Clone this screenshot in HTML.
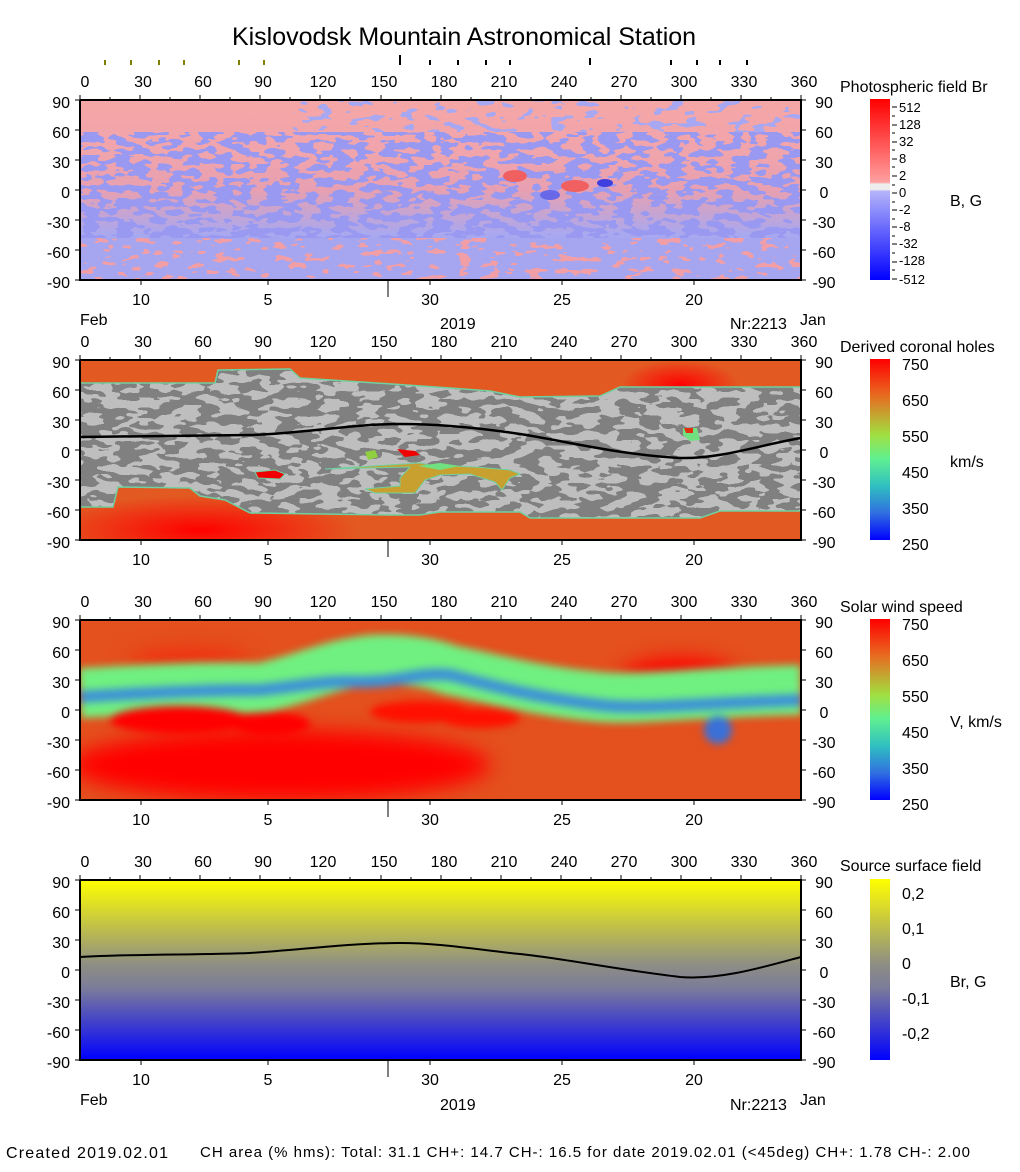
<!DOCTYPE html>
<html><head><meta charset="utf-8"><style>
body{margin:0;background:#fff;}
svg{display:block;font-family:"Liberation Sans",Arial,sans-serif;}
.t{font-size:16px;fill:#000}
.s{font-size:13px;fill:#000}
filter{color-interpolation-filters:sRGB}
</style></head><body>
<svg width="1020" height="1172" viewBox="0 0 1020 1172" xmlns="http://www.w3.org/2000/svg">
<defs>
<filter id="n1" x="0" y="0" width="1" height="1" color-interpolation-filters="sRGB"><feTurbulence type="fractalNoise" baseFrequency="0.06 0.14" numOctaves="2" seed="3"/><feColorMatrix type="matrix" values="0 0 0 0 0.6  0 0 0 0 0.6  0 0 0 0 0.95  1 0 0 0 0"/><feComponentTransfer><feFuncA type="discrete" tableValues="0 1"/></feComponentTransfer></filter>
<filter id="n2" x="0" y="0" width="1" height="1" color-interpolation-filters="sRGB"><feTurbulence type="fractalNoise" baseFrequency="0.05 0.12" numOctaves="2" seed="7"/><feColorMatrix type="matrix" values="0 0 0 0 0.5  0 0 0 0 0.5  0 0 0 0 0.5  1 0 0 0 0"/><feComponentTransfer><feFuncA type="discrete" tableValues="0 1"/></feComponentTransfer></filter>
<filter id="n3" x="0" y="0" width="1" height="1" color-interpolation-filters="sRGB"><feTurbulence type="fractalNoise" baseFrequency="0.07 0.16" numOctaves="2" seed="11"/><feColorMatrix type="matrix" values="0 0 0 0 0.95  0 0 0 0 0.62  0 0 0 0 0.65  1 0 0 0 -0.12"/><feComponentTransfer><feFuncA type="discrete" tableValues="0 1"/></feComponentTransfer></filter>
<filter id="n4" x="0" y="0" width="1" height="1" color-interpolation-filters="sRGB"><feTurbulence type="fractalNoise" baseFrequency="0.06 0.14" numOctaves="2" seed="5"/><feColorMatrix type="matrix" values="0 0 0 0 0.66  0 0 0 0 0.66  0 0 0 0 0.95  1 0 0 0 -0.12"/><feComponentTransfer><feFuncA type="discrete" tableValues="0 1"/></feComponentTransfer></filter>
<filter id="bl" x="-0.2" y="-0.5" width="1.4" height="2"><feGaussianBlur stdDeviation="4"/></filter>
<filter id="bl2" x="-0.3" y="-0.5" width="1.6" height="2"><feGaussianBlur stdDeviation="10"/></filter>
<linearGradient id="g1" x1="0" y1="0" x2="0" y2="1">
<stop offset="0" stop-color="#f5a6a6"/><stop offset="0.3" stop-color="#f0a4ac"/><stop offset="0.5" stop-color="#e8a0b0"/><stop offset="0.75" stop-color="#a8a8f0"/><stop offset="1" stop-color="#a0a0ee"/></linearGradient>
<linearGradient id="g4" x1="0" y1="0" x2="0" y2="1">
<stop offset="0" stop-color="#ffff00"/><stop offset="0.47" stop-color="#8e8e84"/><stop offset="0.6" stop-color="#7c7c9a"/><stop offset="1" stop-color="#0000ff"/></linearGradient>
<linearGradient id="cb1" x1="0" y1="0" x2="0" y2="1">
<stop offset="0" stop-color="#ff0000"/><stop offset="0.46" stop-color="#ffa0a0"/><stop offset="0.47" stop-color="#eeeeee"/><stop offset="0.5" stop-color="#eeeeee"/><stop offset="0.51" stop-color="#b4b4fa"/><stop offset="1" stop-color="#0000ff"/></linearGradient>
<linearGradient id="cb2" x1="0" y1="0" x2="0" y2="1">
<stop offset="0" stop-color="#ff0000"/><stop offset="0.2" stop-color="#e86a20"/><stop offset="0.42" stop-color="#a0e040"/><stop offset="0.55" stop-color="#60f090"/><stop offset="0.7" stop-color="#30c0c0"/><stop offset="0.85" stop-color="#3070e0"/><stop offset="1" stop-color="#0000ff"/></linearGradient>
<radialGradient id="rd" cx="0.5" cy="0.5" r="0.5"><stop offset="0" stop-color="#ff0000"/><stop offset="1" stop-color="#ff0000" stop-opacity="0"/></radialGradient>
<clipPath id="c1"><rect x="80" y="100" width="721" height="180"/></clipPath>
<clipPath id="c2"><rect x="80" y="360" width="721" height="180"/></clipPath>
<clipPath id="c3"><rect x="80" y="620" width="721" height="180"/></clipPath>
<clipPath id="gp"><path d="M80,383 L215,383 L218,370 L290,369 L300,378 L392,384 L450,388 L490,391 L520,397 L600,396 L620,387 L801,387 L801,511 L720,511 L700,518 L530,518 L520,512 L440,512 L420,515 L390,515 L250,513 L225,500 L200,496 L190,488 L118,487 L113,507 L80,507 Z"/></clipPath>
</defs>

<text x="464" y="45" text-anchor="middle" style="font-size:25px">Kislovodsk Mountain Astronomical Station</text>
<g stroke="#808000" stroke-width="2"><line x1="105" y1="60" x2="105" y2="65"/><line x1="131" y1="60" x2="131" y2="65"/><line x1="159" y1="60" x2="159" y2="65"/><line x1="184" y1="60" x2="184" y2="65"/><line x1="239" y1="60" x2="239" y2="65"/><line x1="264" y1="60" x2="264" y2="65"/></g>
<g stroke="#000" stroke-width="2"><line x1="400" y1="55" x2="400" y2="65"/><line x1="430" y1="60" x2="430" y2="65"/><line x1="458" y1="60" x2="458" y2="65"/><line x1="486" y1="60" x2="486" y2="65"/><line x1="510" y1="60" x2="510" y2="65"/><line x1="590" y1="58" x2="590" y2="65"/><line x1="671" y1="60" x2="671" y2="65"/><line x1="697" y1="60" x2="697" y2="65"/><line x1="720" y1="60" x2="720" y2="65"/><line x1="747" y1="60" x2="747" y2="65"/></g>

<!-- Panel 1 -->
<g clip-path="url(#c1)">
<rect x="80" y="100" width="721" height="180" fill="url(#g1)"/>
<rect x="80" y="132" width="721" height="106" filter="url(#n1)"/>
<rect x="293" y="100" width="508" height="32" filter="url(#n4)"/>
<rect x="80" y="238" width="721" height="42" fill="#a6a6f0"/>
<rect x="80" y="238" width="721" height="42" filter="url(#n3)"/>
<ellipse cx="515" cy="176" rx="12" ry="6" fill="#f06060"/><ellipse cx="575" cy="186" rx="14" ry="6" fill="#f06060"/><ellipse cx="605" cy="183" rx="8" ry="4" fill="#4040e0"/><ellipse cx="550" cy="195" rx="10" ry="5" fill="#6868e8"/>
</g>

<!-- Panel 2 -->
<g clip-path="url(#c2)">
<rect x="80" y="360" width="721" height="180" fill="#e25a22"/>
<ellipse cx="200" cy="530" rx="160" ry="35" fill="url(#rd)"/>
<ellipse cx="680" cy="385" rx="60" ry="25" fill="url(#rd)"/>
<g clip-path="url(#gp)">
<rect x="80" y="360" width="721" height="180" fill="#bebebe"/>
<rect x="80" y="360" width="721" height="180" filter="url(#n2)"/>
</g>
<path d="M80,383 L215,383 L218,370 L290,369 L300,378 L392,384 L450,388 L490,391 L520,397 L600,396 L620,387 L801,387 M801,511 L720,511 L700,518 L530,518 L520,512 L440,512 L420,515 L390,515 L250,513 L225,500 L200,496 L190,488 L118,487 L113,507 L80,507" fill="none" stroke="#70d0a0" stroke-width="1.5"/>
<path d="M255,472 L275,470 L285,474 L280,479 L258,478Z" fill="#f00000" stroke="#70d0a0"/>
<path d="M365,452 L375,450 L378,457 L368,460Z" fill="#90d040"/>
<path d="M397,449 L415,451 L420,455 L405,457Z" fill="#f00000"/>
<path d="M325,469 L420,463 L430,465 L475,467 L510,470 L520,474 L510,478 L502,490 L495,482 L470,474 L440,475 L425,480 L415,493 L375,493 L365,489 L400,486 L400,478 L410,467Z" fill="#c8a030" stroke="#70d0a0"/>
<path d="M418,466 L440,463 L460,466 L440,470Z" fill="#70e080"/>
<path d="M683,428 L697,428 L700,440 L690,441 L683,435Z" fill="#70e080"/>
<path d="M684,428 L693,428 L693,433 L686,433Z" fill="#e03010"/>
<path d="M80,437 C130,436 200,436 250,435 C300,434 350,424 400,424 C440,424 480,428 520,434 C560,440 620,455 680,458 C720,459 760,445 801,438" fill="none" stroke="#000" stroke-width="2.5"/>
</g>

<!-- Panel 3 -->
<g clip-path="url(#c3)">
<rect x="80" y="620" width="721" height="180" fill="#e4501e"/>
<g filter="url(#bl2)">
<ellipse cx="280" cy="765" rx="210" ry="35" fill="#ff0000"/>
<ellipse cx="680" cy="680" rx="60" ry="22" fill="#ff0000"/>
<ellipse cx="190" cy="662" rx="60" ry="14" fill="#f03010"/>
</g>
<g filter="url(#bl)">
<path d="M80,693 C140,690 200,686 260,688 C300,680 330,664 370,660 C400,658 430,662 450,670 C500,680 540,692 600,697 C640,700 700,692 801,690" fill="none" stroke="#70f080" stroke-width="50"/>
<path d="M330,672 L370,648 L410,652 L440,668Z" fill="#70f080"/>
<path d="M80,697 C140,693 200,690 260,690 C300,686 330,680 360,682 C400,682 420,672 450,675 C500,688 540,698 600,705 C640,710 700,703 801,700" fill="none" stroke="#3c90d8" stroke-width="12"/>
<ellipse cx="718" cy="730" rx="14" ry="14" fill="#3a70d8"/>
<ellipse cx="180" cy="720" rx="70" ry="14" fill="#ff0000"/>
<ellipse cx="270" cy="724" rx="40" ry="12" fill="#ff0000"/>
<ellipse cx="420" cy="712" rx="50" ry="11" fill="#ff1000"/>
<ellipse cx="480" cy="718" rx="40" ry="10" fill="#ff1000"/>
</g>
</g>

<!-- Panel 4 -->
<rect x="80" y="880" width="721" height="180" fill="url(#g4)"/>
<path d="M80,957 C130,954 200,955 250,953 C300,950 350,943 400,943 C440,943 480,950 520,954 C560,958 620,970 680,977 C720,980 760,968 801,957" fill="none" stroke="#000" stroke-width="2"/>

<!-- axes frames -->
<g fill="none" stroke="#000" stroke-width="2">
<path d="M80,100 V280 H801 V100 H80"/>
<path d="M80,360 V540 H801 V360 H80"/>
<path d="M80,620 V800 H801 V620 H80"/>
<path d="M80,880 V1060 H801 V880 H80"/>
</g>
<g stroke="#000" stroke-width="1">
<path id="tk" d="M80,100v-5M140,100v-5M200,100v-5M260,100v-5M320,100v-5M381,100v-5M441,100v-5M501,100v-5M561,100v-5M621,100v-5M681,100v-5M741,100v-5M801,100v-5M110,100v-3M170,100v-3M230,100v-3M290,100v-3M350,100v-3M411,100v-3M471,100v-3M531,100v-3M591,100v-3M651,100v-3M711,100v-3M771,100v-3M75,100h5M75,130h5M75,160h5M75,190h5M75,220h5M75,250h5M75,280h5M801,100h5M801,130h5M801,160h5M801,190h5M801,220h5M801,250h5M801,280h5M141,280v5M268,280v5M430,280v5M562,280v5M694,280v5M388,280v17"/>
<use href="#tk" y="260"/><use href="#tk" y="520"/><use href="#tk" y="780"/>
</g>

<g class="t" text-anchor="middle">
<g id="top"><text x="85" y="87">0</text><text x="143" y="87">30</text><text x="203" y="87">60</text><text x="263" y="87">90</text><text x="323" y="87">120</text><text x="384" y="87">150</text><text x="444" y="87">180</text><text x="504" y="87">210</text><text x="564" y="87">240</text><text x="624" y="87">270</text><text x="684" y="87">300</text><text x="744" y="87">330</text><text x="804" y="87">360</text></g>
<use href="#top" y="260"/><use href="#top" y="520"/><use href="#top" y="780"/>
<g id="bot"><text x="141" y="305">10</text><text x="268" y="305">5</text><text x="430" y="305">30</text><text x="562" y="305">25</text><text x="694" y="305">20</text></g>
<use href="#bot" y="260"/><use href="#bot" y="520"/><use href="#bot" y="780"/>
</g>
<g class="t" text-anchor="end">
<g id="lft"><text x="70" y="108">90</text><text x="70" y="138">60</text><text x="70" y="168">30</text><text x="70" y="198">0</text><text x="70" y="228">-30</text><text x="70" y="258">-60</text><text x="70" y="288">-90</text></g>
<use href="#lft" y="260"/><use href="#lft" y="520"/><use href="#lft" y="780"/>
</g>
<g class="t" text-anchor="middle">
<g id="rgt"><text x="824" y="108">90</text><text x="824" y="138">60</text><text x="824" y="168">30</text><text x="824" y="198">0</text><text x="824" y="228">-30</text><text x="824" y="258">-60</text><text x="824" y="288">-90</text></g>
<use href="#rgt" y="260"/><use href="#rgt" y="520"/><use href="#rgt" y="780"/>
</g>
<g class="t">
<text x="80" y="325">Feb</text><text x="440" y="329">2019</text><text x="730" y="329">Nr:2213</text><text x="800" y="325">Jan</text>
<text x="80" y="1105">Feb</text><text x="440" y="1110">2019</text><text x="730" y="1110">Nr:2213</text><text x="800" y="1105">Jan</text>
</g>

<!-- colorbars -->
<text x="840" y="92" class="t">Photospheric field Br</text>
<rect x="870" y="99" width="20" height="181" fill="url(#cb1)"/>
<g stroke="#000"><path d="M892,107h5M892,116h3M892,125h5M892,133h3M892,142h5M892,150h3M892,159h5M892,167h3M892,176h5M892,185h3M892,193h5M892,202h3M892,210h5M892,219h3M892,227h5M892,236h3M892,244h5M892,253h3M892,262h5M892,270h3M892,279h5"/></g>
<g class="s"><text x="899" y="112">512</text><text x="899" y="129">128</text><text x="899" y="146">32</text><text x="899" y="163">8</text><text x="899" y="180">2</text><text x="899" y="197">0</text><text x="899" y="214">-2</text><text x="899" y="231">-8</text><text x="899" y="248">-32</text><text x="899" y="265">-128</text><text x="899" y="284">-512</text></g>
<text x="950" y="206" class="t">B, G</text>

<text x="840" y="352" class="t">Derived coronal holes</text>
<rect x="870" y="359" width="20" height="181" fill="url(#cb2)"/>
<g class="t"><text x="902" y="370">750</text><text x="902" y="406">650</text><text x="902" y="442">550</text><text x="902" y="478">450</text><text x="902" y="514">350</text><text x="902" y="550">250</text></g>
<text x="950" y="467" class="t">km/s</text>

<text x="840" y="612" class="t">Solar wind speed</text>
<rect x="870" y="619" width="20" height="181" fill="url(#cb2)"/>
<g class="t"><text x="902" y="630">750</text><text x="902" y="666">650</text><text x="902" y="702">550</text><text x="902" y="738">450</text><text x="902" y="774">350</text><text x="902" y="810">250</text></g>
<text x="950" y="727" class="t">V, km/s</text>

<text x="840" y="871" class="t">Source surface field</text>
<rect x="870" y="879" width="20" height="181" fill="url(#g4)"/>
<g class="t"><text x="902" y="899">0,2</text><text x="902" y="934">0,1</text><text x="902" y="969">0</text><text x="902" y="1004">-0,1</text><text x="902" y="1039">-0,2</text></g>
<text x="950" y="987" class="t">Br, G</text>

<text x="6" y="1158" class="t" textLength="162">Created  2019.02.01</text>
<text x="200" y="1157" class="t" style="font-size:15px" textLength="770">CH area (% hms): Total: 31.1 CH+: 14.7   CH-: 16.5 for date 2019.02.01 (&lt;45deg) CH+: 1.78    CH-: 2.00</text>
</svg>
</body></html>
